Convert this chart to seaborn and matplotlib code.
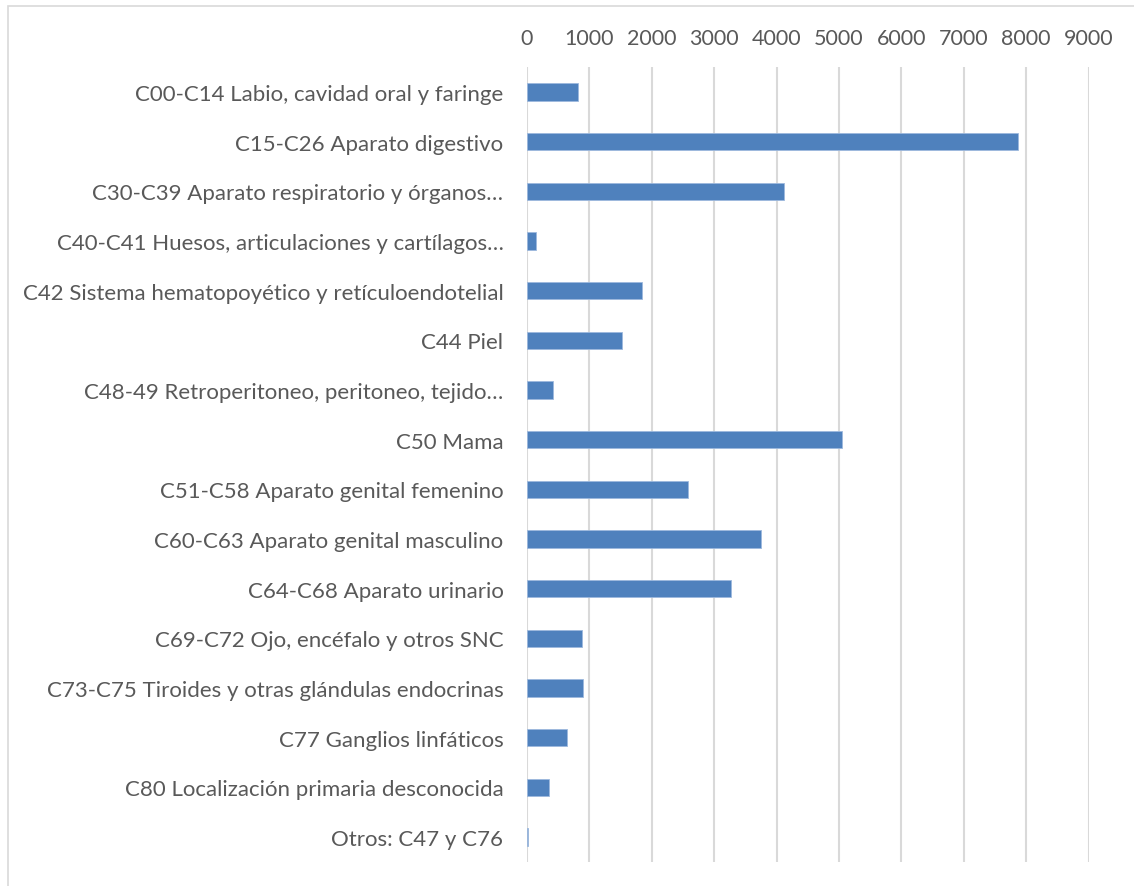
import matplotlib
matplotlib.use("Agg")
import matplotlib.pyplot as plt
import seaborn as sns
import pandas as pd
from matplotlib.patches import Rectangle

categories = [
    "C00-C14 Labio, cavidad oral y faringe",
    "C15-C26 Aparato digestivo",
    "C30-C39 Aparato respiratorio y órganos…",
    "C40-C41 Huesos, articulaciones y cartílagos…",
    "C42 Sistema hematopoyético y retículoendotelial",
    "C44 Piel",
    "C48-49 Retroperitoneo, peritoneo, tejido…",
    "C50 Mama",
    "C51-C58 Aparato genital femenino",
    "C60-C63 Aparato genital masculino",
    "C64-C68 Aparato urinario",
    "C69-C72 Ojo, encéfalo y otros SNC",
    "C73-C75 Tiroides y otras glándulas endocrinas",
    "C77 Ganglios linfáticos",
    "C80 Localización primaria desconocida",
    "Otros: C47 y C76",
]
values = [822, 7864, 4124, 149, 1838, 1528, 422, 5053, 2580, 3755, 3274, 881, 903, 636, 353, 20]
x_ticks = [0, 1000, 2000, 3000, 4000, 5000, 6000, 7000, 8000, 9000]

df = pd.DataFrame({"categoria": categories, "valor": values})

sns.set_theme(style="white")
plt.rcParams['font.family'] = ['Lato', 'DejaVu Sans']

fig = plt.figure(figsize=(11.34, 8.87), dpi=100)
ax = fig.add_axes([527/1134, 1 - 863/887, (1088.6 - 527)/1134, (863 - 68)/887])

sns.barplot(data=df, y="categoria", x="valor", orient="h", color="#4F81BD",
            width=0.35, edgecolor="#9DB9DE", linewidth=0.6, ax=ax, zorder=3, saturation=1)

ax.set_xlim(0, 9000)
ax.set_xticks(x_ticks)
ax.set_xticklabels([str(t) for t in x_ticks])
ax.xaxis.tick_top()
ax.tick_params(axis="x", length=0, pad=14, labelsize=15.5, labelcolor="#595959")
ax.tick_params(axis="y", length=0, pad=17, labelsize=16, labelcolor="#595959")
ax.set_xlabel("")
ax.set_ylabel("")
ax.grid(axis="x", color="#D9D9D9", linewidth=1.5, zorder=0)
ax.set_axisbelow(True)
for s in ax.spines.values():
    s.set_visible(False)

fig.patches.append(Rectangle((8/1134, -0.05), 1.2, 1 - 7/887 + 0.05, transform=fig.transFigure,
                             fill=False, edgecolor="#D9D9D9", linewidth=1.2))

fig.savefig("out.png", dpi=100)
